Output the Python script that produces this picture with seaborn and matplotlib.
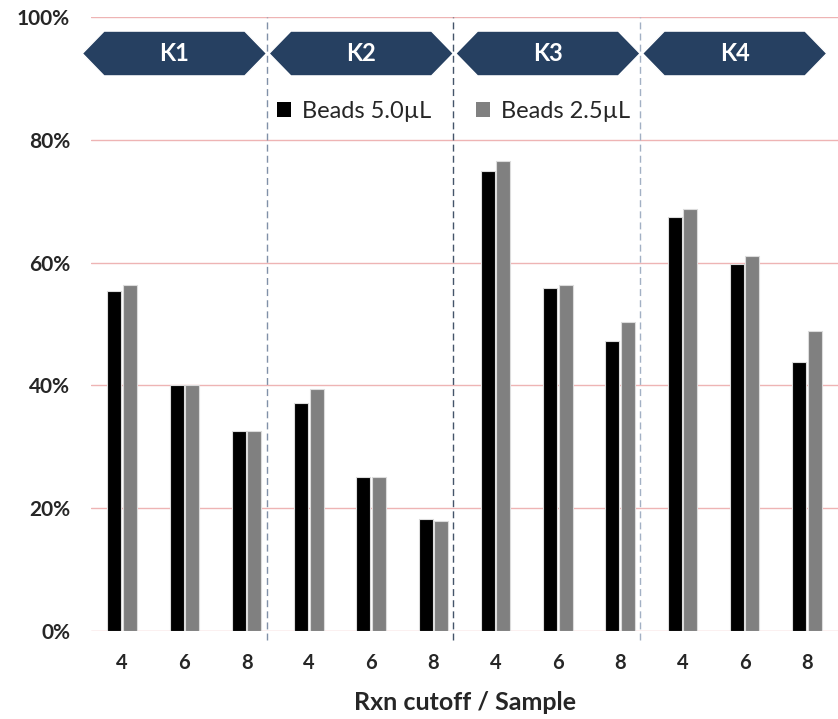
import matplotlib
matplotlib.use("Agg")
import matplotlib.pyplot as plt
from matplotlib.patches import Polygon, Patch
from matplotlib.ticker import FuncFormatter
import seaborn as sns
import pandas as pd

# Samples, reaction cutoffs and the two bead volumes (percent values)
samples = ["K1", "K2", "K3", "K4"]
cutoffs = ["4", "6", "8"]
series_names = ["Beads 5.0µL", "Beads 2.5µL"]
beads_50 = [55.4, 40.1, 32.5, 37.2, 25.1, 18.3, 74.9, 55.8, 47.2, 67.5, 59.8, 43.8]
beads_25 = [56.4, 40.1, 32.6, 39.4, 25.1, 17.9, 76.5, 56.3, 50.3, 68.7, 61.0, 48.9]
y_ticks = [0, 20, 40, 60, 80, 100]

slots = [f"{s}-{c}" for s in samples for c in cutoffs]
df = pd.DataFrame({
    "slot": slots * 2,
    "value": beads_50 + beads_25,
    "series": [series_names[0]] * len(slots) + [series_names[1]] * len(slots),
})

sns.set_theme(style="white")
plt.rcParams["font.family"] = ["Lato", "DejaVu Sans"]

fig = plt.figure(figsize=(8.38, 7.19), dpi=100)
ax = fig.add_axes([0.1086, 0.1224, 0.8914, 0.854])

sns.barplot(data=df, x="slot", y="value", hue="series", order=slots,
            hue_order=series_names, palette=["#000000", "#808080"],
            width=0.5, gap=0.1, edgecolor="#dcdcdc", linewidth=0.8,
            legend=False, ax=ax)

ax.set_xlim(-0.5, 11.5)
ax.set_ylim(0, 100)
ax.set_yticks(y_ticks)
ax.yaxis.set_major_formatter(FuncFormatter(lambda v, _: f"{v:.0f}%"))
ax.set_xticks(range(len(slots)))
ax.set_xticklabels(cutoffs * len(samples))
for side in ax.spines.values():
    side.set_visible(False)
ax.grid(axis="y", color="#eeb4b4", linewidth=1.0)
ax.set_axisbelow(True)
ax.tick_params(axis="both", length=0)
ax.tick_params(axis="x", pad=16, labelsize=14.5)
ax.tick_params(axis="y", pad=15, labelsize=15)
for lab in ax.get_xticklabels() + ax.get_yticklabels():
    lab.set_fontweight("bold")
ax.set_ylabel("")
ax.set_xlabel("Rxn cutoff / Sample", fontsize=18, fontweight="bold", labelpad=13)

# Dashed sample separators
sep_colors = ["#8090a8", "#44546a", "#a2b0c4"]
for i, col in enumerate(sep_colors):
    xs = 2.32 + 3 * i
    ax.plot([xs, xs], [-1.5, 100], color=col, linestyle=(0, (5, 3)),
            linewidth=1.0, clip_on=False, zorder=1)

# Hexagonal sample banners
y_top, y_bot = 97.7, 90.4
y_mid = (y_top + y_bot) / 2
for i, name in enumerate(samples):
    x0 = -0.64 + 3 * i
    x1 = x0 + 2.96
    ind = 0.35
    pts = [(x0, y_mid), (x0 + ind, y_top), (x1 - ind, y_top),
           (x1, y_mid), (x1 - ind, y_bot), (x0 + ind, y_bot)]
    ax.add_patch(Polygon(pts, closed=True, facecolor="#264061",
                         edgecolor="white", linewidth=1.0, zorder=5,
                         clip_on=False))
    ax.text((x0 + x1) / 2, y_mid, name, color="white", fontsize=17,
            fontweight="bold", ha="center", va="center", zorder=6)

handles = [Patch(facecolor="#000000", edgecolor="none"),
           Patch(facecolor="#808080", edgecolor="none")]
ax.legend(handles, series_names, ncol=2, loc="center",
          bbox_to_anchor=(5.32, 84.6), bbox_transform=ax.transData,
          frameon=False, fontsize=17, handlelength=0.6, handleheight=0.6,
          handletextpad=0.45, columnspacing=1.9)

fig.savefig("out.png", dpi=100)
